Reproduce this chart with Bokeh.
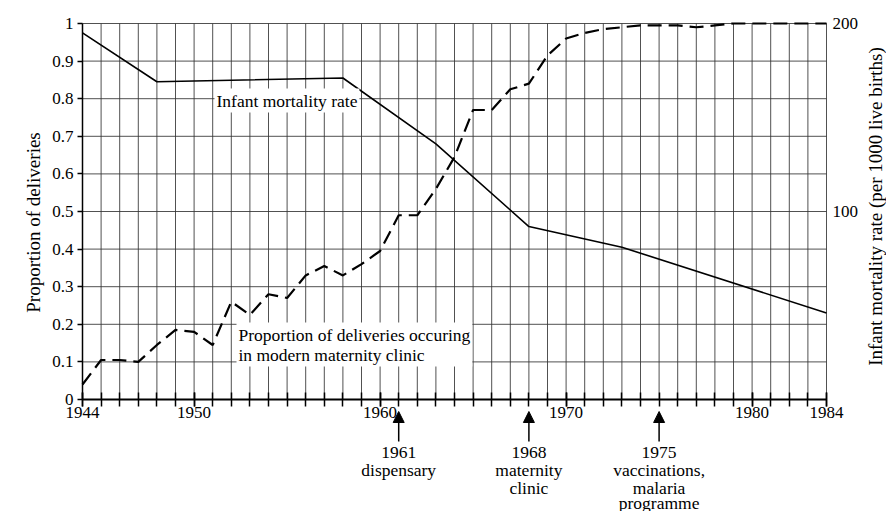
import math
from bokeh.plotting import figure
from bokeh.models import Range1d, LinearAxis, FixedTicker, Label, Arrow, NormalHead
from bokeh.embed import file_html
from bokeh.resources import INLINE

# ---- data ----
deliv_years = list(range(1944, 1985))
deliv_prop = [0.04, 0.105, 0.105, 0.10, 0.145, 0.185, 0.18, 0.145, 0.26, 0.225,
              0.28, 0.27, 0.33, 0.355, 0.33, 0.36, 0.395, 0.49, 0.49, 0.56,
              0.645, 0.77, 0.77, 0.825, 0.84, 0.915, 0.96, 0.975, 0.985, 0.99,
              0.995, 0.995, 0.995, 0.99, 0.995, 1.0, 1.0, 1.0, 1.0, 1.0, 1.0]

imr_years = [1944, 1948, 1958, 1963, 1968, 1973, 1984]
imr_values = [195, 169, 171, 136, 92, 81, 46]

x_major_ticks = [1944, 1950, 1960, 1970, 1980, 1984]
y_ticks = [0, 0.1, 0.2, 0.3, 0.4, 0.5, 0.6, 0.7, 0.8, 0.9, 1.0]
y_tick_labels = ["0", "0.1", "0.2", "0.3", "0.4", "0.5", "0.6", "0.7", "0.8", "0.9", "1"]
imr_ticks = [100, 200]
imr_tick_labels = ["100", "200"]

event_years = [1961, 1968, 1975]
event_texts = [["1961", "dispensary"],
               ["1968", "maternity", "clinic"],
               ["1975", "vaccinations,", "malaria", "programme"]]

FONT = "Liberation Serif"
W, H = 886, 511

# ---- layout: pixel geometry of the frame (positions only) ----
PX_LEFT, PX_RIGHT = 82.0, 826.0      # x pixels of 1944 and 1984
PX_BOTTOM, PX_TOP = 399.0, 23.0      # y pixels of 0 and 1
XMIN, XMAX = 1944, 1984
ppx = (PX_RIGHT - PX_LEFT) / (XMAX - XMIN)
ppy = (PX_BOTTOM - PX_TOP)


def dx(px):
    return XMIN + (px - PX_LEFT) / ppx


def dy(py):
    return (PX_BOTTOM - py) / ppy


x_range = Range1d(dx(0), dx(W))
y_range = Range1d(dy(H), dy(0))
IMR_MAX = 200.0

p = figure(width=W, height=H, output_backend="svg", toolbar_location=None,
           x_range=x_range, y_range=y_range, x_axis_type=None, y_axis_type=None,
           title=None, min_border=0)
p.min_border_left = 0
p.min_border_right = 0
p.min_border_top = 0
p.min_border_bottom = 0
p.outline_line_color = None
p.background_fill_color = "white"
p.border_fill_color = "white"
p.extra_y_ranges = {"imr": Range1d(y_range.start * IMR_MAX, y_range.end * IMR_MAX)}

# grid lines (drawn as segments so they stay within the data box)
GRID_COLOR = "#333333"
p.segment(x0=deliv_years, y0=[0] * len(deliv_years), x1=deliv_years, y1=[1] * len(deliv_years),
          line_color=GRID_COLOR, line_width=1, line_alpha=0.85)
p.segment(x0=[XMIN] * len(y_ticks), y0=y_ticks, x1=[XMAX] * len(y_ticks), y1=y_ticks,
          line_color=GRID_COLOR, line_width=1, line_alpha=0.85)

TICK_FONT = "17px"

# bottom axis at y = 0
xa = LinearAxis(fixed_location=0, bounds=(XMIN, XMAX),
                ticker=FixedTicker(ticks=x_major_ticks, minor_ticks=deliv_years))
xa.major_tick_in = 7
xa.major_tick_out = 7
xa.minor_tick_in = 7
xa.minor_tick_out = 7
xa.major_tick_line_width = 1.5
xa.minor_tick_line_width = 1.5
xa.axis_line_width = 2
xa.major_label_standoff = 0
xa.major_label_text_font = FONT
xa.major_label_text_font_size = TICK_FONT
xa.major_label_text_color = "black"
p.add_layout(xa, "below")

# left axis at x = 1944
ya = LinearAxis(fixed_location=XMIN, bounds=(0, 1),
                ticker=FixedTicker(ticks=y_ticks, minor_ticks=[]))
ya.major_label_overrides = {t: l for t, l in zip(y_ticks, y_tick_labels)}
ya.major_tick_in = 0
ya.major_tick_out = 5
ya.major_tick_line_width = 1.5
ya.axis_line_width = 1.5
ya.major_label_standoff = 4
ya.major_label_text_font = FONT
ya.major_label_text_font_size = TICK_FONT
ya.major_label_text_color = "black"
p.add_layout(ya, "left")

# right axis at x = 1984 (infant mortality scale)
ra = LinearAxis(y_range_name="imr", fixed_location=XMAX, bounds=(0, IMR_MAX),
                ticker=FixedTicker(ticks=imr_ticks, minor_ticks=[]))
ra.major_label_overrides = {t: l for t, l in zip(imr_ticks, imr_tick_labels)}
ra.major_tick_in = 0
ra.major_tick_out = 0
ra.axis_line_color = None
ra.major_label_standoff = 6
ra.major_label_text_font = FONT
ra.major_label_text_font_size = TICK_FONT
ra.major_label_text_color = "black"
p.add_layout(ra, "right")

# series
p.line(deliv_years, deliv_prop, line_color="black", line_width=2.2, line_dash="14 7")
p.line(imr_years, imr_values, y_range_name="imr", line_color="black", line_width=1.6)

LABEL_FONT = "17.5px"

# in-plot labels
p.add_layout(Label(x=dx(214), y=dy(100), text="Infant mortality rate",
                   text_font=FONT, text_font_size=LABEL_FONT, text_baseline="middle",
                   text_color="black", background_fill_color="white", padding=2))
p.add_layout(Label(x=dx(236), y=dy(344),
                   text="Proportion of deliveries occuring\nin modern maternity clinic",
                   text_font=FONT, text_font_size=LABEL_FONT, text_baseline="middle",
                   text_line_height=1.0,
                   text_color="black", background_fill_color="white", padding=2))

# axis titles
p.add_layout(Label(x=dx(33), y=dy(222), text="Proportion of deliveries", angle=math.pi / 2,
                   text_font=FONT, text_font_size="19px", text_align="center",
                   text_baseline="middle", text_color="black"))
p.add_layout(Label(x=dx(875), y=dy(206), text="Infant mortality rate (per 1000 live births)",
                   angle=math.pi / 2, text_font=FONT, text_font_size="19px",
                   text_align="center", text_baseline="middle", text_color="black"))

# events below the axis
line_px = [452, 469.5, 487, 502]
for yr, lines in zip(event_years, event_texts):
    p.add_layout(Arrow(x_start=yr, y_start=dy(441), x_end=yr, y_end=dy(411),
                       line_width=1.5, line_color="black",
                       end=NormalHead(size=11, fill_color="black", line_color="black")))
    for i, t in enumerate(lines):
        p.add_layout(Label(x=yr, y=dy(line_px[i]), text=t, text_font=FONT,
                           text_font_size=LABEL_FONT, text_align="center",
                           text_baseline="middle", text_color="black"))

open("out.html", "w").write(file_html(p, INLINE))
